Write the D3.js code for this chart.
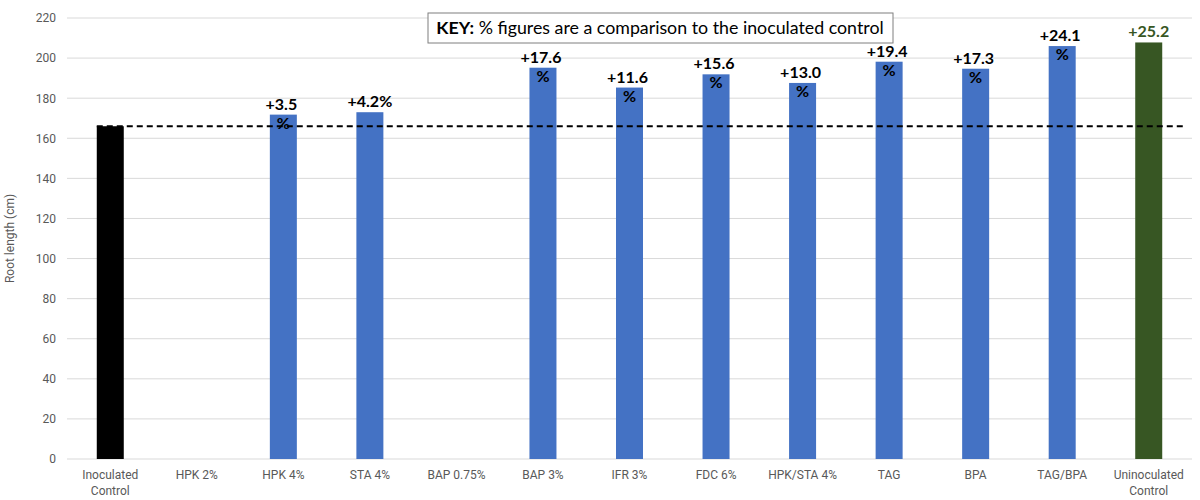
<!DOCTYPE html>
<html>
<head>
<meta charset="utf-8">
<script src="https://cdn.jsdelivr.net/npm/d3@7"></script>
<style>
  body { margin: 0; background: #fff; }
  svg { display: block; }
</style>
</head>
<body>
<svg id="chart" width="1200" height="500"></svg>
<script>
// categories along the x axis (\n = line break)
const categories = ['Inoculated\nControl', 'HPK 2%', 'HPK 4%', 'STA 4%', 'BAP 0.75%', 'BAP 3%',
    'IFR 3%', 'FDC 6%', 'HPK/STA 4%', 'TAG', 'BPA', 'TAG/BPA', 'Uninoculated\nControl'];
// root length (cm); blanks are 0
const rootLength = [166, 0, 171.8, 173, 0, 195.2, 185.3, 191.9, 187.6, 198.2, 194.7, 206, 207.8];
// % change labels shown above bars
const pctLabels = ['', '', '+3.5\n%', '+4.2%', '', '+17.6\n%', '+11.6\n%', '+15.6\n%', '+13.0\n%',
    '+19.4\n%', '+17.3\n%', '+24.1\n%', '+25.2'];
const yTicks = [0, 20, 40, 60, 80, 100, 120, 140, 160, 180, 200, 220];
const controlValue = 166;

const svg = d3.select('#chart');
const margin = { top: 18, right: 8, bottom: 41, left: 67 };
const width = 1200 - margin.left - margin.right;
const height = 500 - margin.top - margin.bottom;

const x = d3.scaleBand()
    .domain(d3.range(categories.length))
    .range([0, width])
    .paddingInner(0.688)
    .paddingOuter(0.344);

const y = d3.scaleLinear()
    .domain([0, 220])
    .range([height, 0]);

const chart = svg.append('g')
    .attr('transform', `translate(${margin.left},${margin.top})`);

// gridlines
chart.append('g')
    .selectAll('line')
    .data(yTicks)
    .enter()
    .append('line')
    .attr('x1', 0)
    .attr('x2', width)
    .attr('y1', d => y(d))
    .attr('y2', d => y(d))
    .attr('stroke', '#d9d9d9')
    .attr('stroke-width', 1);

// y axis tick labels
const yAxis = chart.append('g')
    .call(d3.axisLeft(y).tickValues(yTicks).tickSize(0).tickPadding(11));
yAxis.select('.domain').remove();
yAxis.selectAll('text')
    .style('font-family', 'Roboto')
    .style('font-size', '12px')
    .attr('fill', '#595959');

// x axis labels
const xAxis = chart.append('g')
    .attr('transform', `translate(0,${height})`)
    .call(d3.axisBottom(x).tickSize(0).tickFormat(''));
xAxis.select('.domain').remove();
xAxis.selectAll('.tick text').remove();
xAxis.selectAll('.tick')
    .append('text')
    .attr('fill', '#595959')
    .style('font-family', 'Roboto')
    .style('font-size', '12px')
    .attr('text-anchor', 'middle')
    .selectAll('tspan')
    .data(i => categories[i].split('\n'))
    .enter()
    .append('tspan')
    .attr('x', 0)
    .attr('y', (d, j) => 20 + j * 16)
    .text(d => d);

// y axis title
svg.append('text')
    .attr('transform', 'rotate(-90)')
    .attr('x', -(margin.top + height / 2))
    .attr('y', 14)
    .style('text-anchor', 'middle')
    .style('font-family', 'Roboto')
    .style('font-size', '12px')
    .attr('fill', '#595959')
    .text('Root length (cm)');

// bars
const barColor = i => i === 0 ? '#000000' : (i === categories.length - 1 ? '#375623' : '#4472c4');
chart.selectAll('.bar')
    .data(rootLength.map((v, i) => ({ v, i })).filter(d => d.v > 0))
    .enter()
    .append('rect')
    .attr('class', 'bar')
    .attr('x', d => x(d.i))
    .attr('y', d => y(d.v))
    .attr('width', x.bandwidth())
    .attr('height', d => height - y(d.v))
    .attr('fill', d => barColor(d.i));

// dashed control line
chart.append('line')
    .attr('x1', x(0))
    .attr('x2', width - 9)
    .attr('y1', y(controlValue))
    .attr('y2', y(controlValue))
    .attr('stroke', '#000')
    .attr('stroke-width', 2)
    .attr('stroke-dasharray', '6,4');

// % labels
chart.selectAll('.pct')
    .data(rootLength.map((v, i) => ({ v, i, t: pctLabels[i] })).filter(d => d.t))
    .enter()
    .append('text')
    .attr('class', 'pct')
    .attr('text-anchor', 'middle')
    .style('font-family', 'Lato')
    .style('font-weight', 'bold')
    .style('font-size', '16px')
    .attr('fill', d => d.i === categories.length - 1 ? '#375623' : '#000')
    .selectAll('tspan')
    .data(d => d.t.split('\n').map((s, j) => ({ s, j, d })))
    .enter()
    .append('tspan')
    .attr('x', d => x(d.d.i) + x.bandwidth() / 2 - (d.j === 0 && d.d.t.includes('\n') ? 2 : 0))
    .attr('y', d => y(d.d.v) + (d.j === 0 ? -5 : 14))
    .text(d => d.s);

// key box
const key = svg.append('g').attr('transform', 'translate(428,13)');
key.append('rect')
    .attr('width', 465)
    .attr('height', 30)
    .attr('fill', '#fff')
    .attr('stroke', '#7f7f7f')
    .attr('stroke-width', 1);
const keyText = key.append('text')
    .attr('x', 232)
    .attr('y', 21)
    .attr('text-anchor', 'middle')
    .style('font-family', 'Lato')
    .style('font-size', '17.8px')
    .attr('fill', '#000');
keyText.append('tspan').style('font-weight', 'bold').text('KEY:');
keyText.append('tspan').text(' % figures are a comparison to the inoculated control');
</script>
</body>
</html>
